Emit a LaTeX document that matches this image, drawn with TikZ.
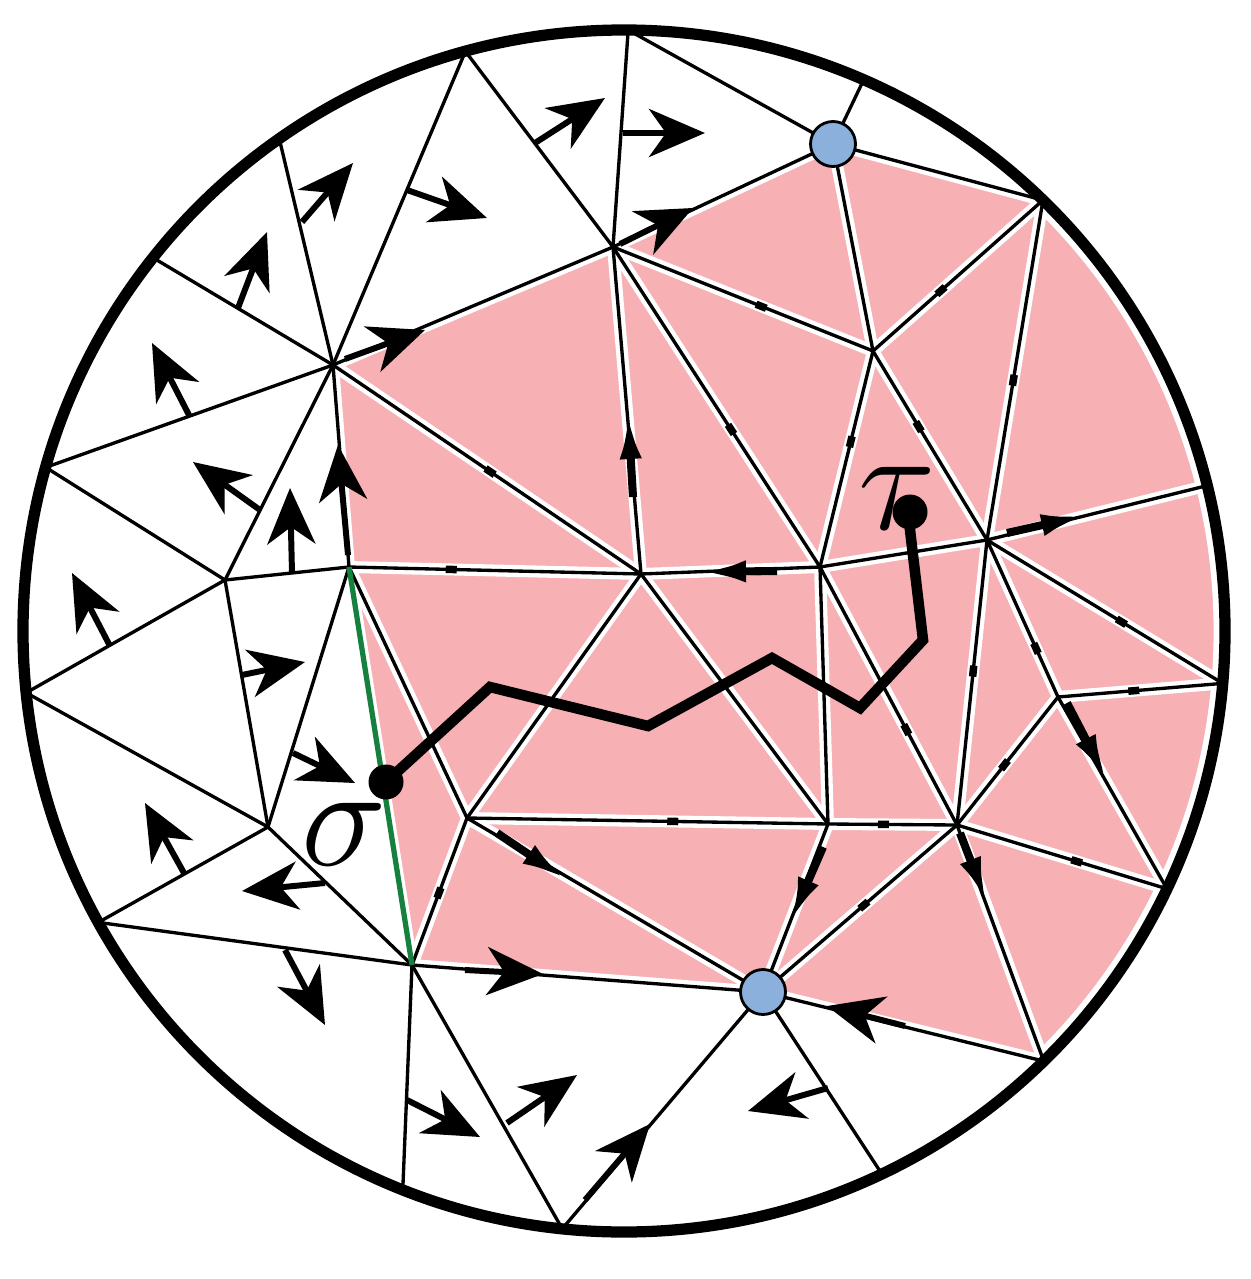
\RequirePackage{fix-cm}
\documentclass[tikz,border=0pt]{standalone}
\usepackage{tikz}
\usetikzlibrary{arrows.meta}
\definecolor{pinkfill}{RGB}{247,176,180}
\definecolor{dotblue}{RGB}{140,176,220}
\definecolor{edgegreen}{RGB}{22,128,62}
\newcommand{\meshedges}{b16/a, b1/a, b1/b, b2/b, b2/p, b/p, b3/p, p/b4, p/c, c/b4, b4/i, b/c, a/b, b/g, b/h, c/h, c/i, i/b5, a/g, a/d, a/e, a/b14, a/b15, b14/e, e/b13, e/d, e/f, d/f, b13/f, f/b12, f/n, b12/n, n/b11, n/b10, b10/q, n/q, q/b9, q/b8, q/l, q/k, q/j, n/j, l/b8, l/b7, d/g, g/h, h/i, d/j, g/j, g/k, j/k, h/k, h/l, i/l, i/m, i/b6, m/b6, m/l, m/b7, k/l}

\begin{document}
\begin{tikzpicture}[
  halo/.style={white, line width=3.4pt},
  edge/.style={black, line width=0.95pt},
  flow/.style={line width=1.7pt, -{Stealth[length=5.6mm, width=4.8mm, inset=1.7mm]}},
  thinflow/.style={line width=2.3pt, -{Latex[length=4.6mm, width=2.2mm]}},
  mk/.style={fill=black, inner sep=0pt, minimum width=1.1mm, minimum height=0.75mm, sloped},
  bluedot/.style={circle, draw=black, line width=0.8pt, fill=dotblue, minimum size=4.5mm, inner sep=0pt},
  blackdot/.style={circle, fill=black, minimum size=3.5mm, inner sep=0pt},
  cell/.style={inner sep=0pt, font=\fontsize{41}{41}\selectfont}]

\useasboundingbox (0,0) rectangle (12.5,-12.79);
\coordinate (o) at (6.24,-6.31);

\begin{scope}[shift={(6.24,-6.31)}]
\coordinate (b1) at (105.3:6.01);
\coordinate (b2) at (89.6:6.01);
\coordinate (b3) at (66.5:6.01);
\coordinate (b4) at (45.8:6.01);
\coordinate (b5) at (14.0:6.01);
\coordinate (b6) at (-5.0:6.01);
\coordinate (b7) at (-25.4:6.01);
\coordinate (b8) at (-45.7:6.01);
\coordinate (b9) at (-64.6:6.01);
\coordinate (b10) at (264.1:6.01);
\coordinate (b11) at (248.4:6.01);
\coordinate (b12) at (209.0:6.01);
\coordinate (b13) at (185.9:6.01);
\coordinate (b14) at (164.2:6.01);
\coordinate (b15) at (141.6:6.01);
\coordinate (b16) at (125.0:6.01);
\end{scope}

\coordinate (a) at (3.33,-3.65);
\coordinate (b) at (6.13,-2.47);
\coordinate (p) at (8.33,-1.44);
\coordinate (c) at (8.73,-3.51);
\coordinate (d) at (3.49,-5.67);
\coordinate (e) at (2.25,-5.80);
\coordinate (f) at (2.68,-8.27);
\coordinate (g) at (6.41,-5.74);
\coordinate (h) at (8.20,-5.67);
\coordinate (i) at (9.87,-5.40);
\coordinate (j) at (4.67,-8.18);
\coordinate (k) at (8.28,-8.24);
\coordinate (l) at (9.57,-8.25);
\coordinate (m) at (10.58,-6.97);
\coordinate (n) at (4.12,-9.65);
\coordinate (q) at (7.63,-9.92);

\fill[pinkfill] (a) -- (b) -- (p) -- (b4) arc[start angle=45.8, end angle=-45.7, radius=6.01] -- (q) -- (n) -- (d) -- cycle;

\foreach \u/\v in \meshedges {\draw[halo] (\u) -- (\v);}
\draw[halo] (d) -- (n);
\draw[white, line width=6.5pt] (o) circle (6.01);
\foreach \u/\v in \meshedges {\draw[edge] (\u) -- (\v);}
\draw[edgegreen, line width=1.5pt] (d) -- (n);
\draw[line width=3.2pt] (o) circle (6.01);

\path (a) -- (g) node[mk, pos=0.51] {};
\path (d) -- (g) node[mk, pos=0.35] {};
\path (b) -- (h) node[mk, pos=0.57] {};
\path (b) -- (c) node[mk, pos=0.57] {};
\path (c) -- (b4) node[mk, pos=0.40] {};
\path (b4) -- (i) node[mk, pos=0.53] {};
\path (c) -- (h) node[mk, pos=0.42] {};
\path (c) -- (i) node[mk, pos=0.40] {};
\path (i) -- (l) node[mk, pos=0.46] {};
\path (i) -- (m) node[mk, pos=0.69] {};
\path (i) -- (b6) node[mk, pos=0.57] {};
\path (m) -- (b6) node[mk, pos=0.46] {};
\path (h) -- (l) node[mk, pos=0.63] {};
\path (m) -- (l) node[mk, pos=0.53] {};
\path (k) -- (l) node[mk, pos=0.43] {};
\path (j) -- (k) node[mk, pos=0.57] {};
\path (l) -- (b7) node[mk, pos=0.57] {};
\path (q) -- (l) node[mk, pos=0.52] {};
\path (n) -- (j) node[mk, pos=0.49] {};

\draw[thinflow] (6.33,-4.97) -- (6.28,-4.13);
\draw[thinflow] (7.77,-5.71) -- (7.00,-5.72);
\draw[thinflow] (10.07,-5.33) -- (10.87,-5.15);
\draw[thinflow] (10.67,-7.03) -- (11.07,-7.80);
\draw[thinflow] (9.60,-8.33) -- (9.87,-9.03);
\draw[thinflow] (8.23,-8.47) -- (7.90,-9.23);
\draw[thinflow] (4.97,-8.33) -- (5.67,-8.80);

\draw[flow] (3.02,-2.22) -- (3.53,-1.63);
\draw[flow] (2.38,-3.08) -- (2.67,-2.32);
\draw[flow] (1.90,-4.17) -- (1.52,-3.43);
\draw[flow] (5.35,-1.43) -- (6.05,-0.98);
\draw[flow] (6.23,-1.33) -- (7.05,-1.33);
\draw[flow] (4.07,-1.90) -- (4.87,-2.18);
\draw[flow] (6.20,-2.44) -- (6.93,-2.08);
\draw[flow] (3.45,-3.59) -- (4.25,-3.30);
\draw[flow] (2.60,-5.10) -- (1.93,-4.62);
\draw[flow] (2.92,-5.73) -- (2.90,-4.88);
\draw[flow] (3.48,-5.55) -- (3.38,-4.45);
\draw[flow] (1.10,-6.46) -- (0.72,-5.73);
\draw[flow] (2.42,-6.75) -- (3.05,-6.62);
\draw[flow] (2.93,-7.53) -- (3.55,-7.83);
\draw[flow] (1.84,-8.73) -- (1.45,-8.03);
\draw[flow] (3.25,-8.83) -- (2.42,-8.91);
\draw[flow] (2.85,-9.50) -- (3.25,-10.25);
\draw[flow] (4.07,-11.00) -- (4.80,-11.37);
\draw[flow] (5.07,-11.23) -- (5.77,-10.75);
\draw[flow] (5.85,-12.00) -- (6.50,-11.24);
\draw[flow] (4.65,-9.70) -- (5.43,-9.74);
\draw[flow] (8.28,-10.88) -- (7.48,-11.11);
\draw[flow] (9.05,-10.26) -- (8.27,-10.06);

\node[bluedot] (pdot) at (p) {};
\node[bluedot] (qdot) at (q) {};

\node[blackdot] (sdot) at (3.86,-7.82) {};
\node[blackdot] (tdot) at (9.10,-5.12) {};
\draw[line width=3pt] (sdot.center) -- (4.90,-6.87) -- (6.48,-7.26) -- (7.72,-6.58) -- (8.60,-7.08) -- (9.23,-6.40) -- (9.10,-5.30) -- (tdot.center);

\node[cell] (sigma) at (3.44,-8.34) {$\sigma$};
\node[cell] (tau) at (8.97,-4.98) {$\tau$};
\end{tikzpicture}
\end{document}
